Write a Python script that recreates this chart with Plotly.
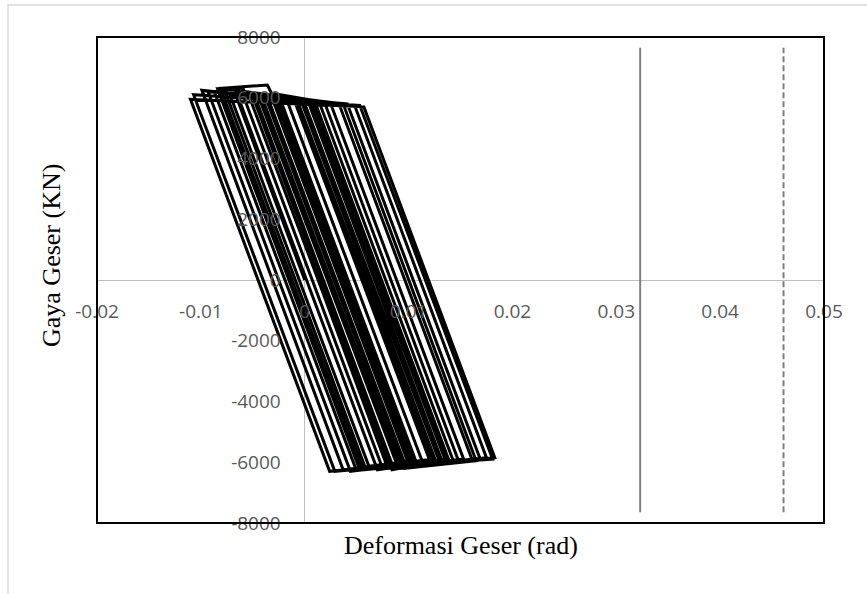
import plotly.graph_objects as go

# Shear deformation (rad) and shear force (kN) along the cyclic loading path
deformasi = [
    0.0000,
    -0.0066, -0.0025, 0.0105, 0.0058,
    -0.0076, -0.0007, 0.0123, 0.0049,
    -0.0087, -0.0060, -0.0057, 0.0008, 0.0137, 0.0080,
    -0.0053, -0.0029, 0.0102, 0.0037,
    -0.0099, 0.0025, 0.0153, 0.0062,
    -0.0072, -0.0004, 0.0126, 0.0024,
    -0.0110, 0.0057, 0.0183, 0.0085,
    -0.0048, -0.0001, 0.0130, 0.0053,
    -0.0084, -0.0036, -0.0032, 0.0019, 0.0148, 0.0089,
    -0.0044, 0.0006, 0.0135, 0.0044,
    -0.0093, 0.0041, 0.0169, 0.0075,
    -0.0060, -0.0011, 0.0121, 0.0029,
    -0.0107, 0.0053, 0.0181, 0.0097,
    -0.0035, -0.0023, 0.0108, 0.0070,
    -0.0066, 0.0003, 0.0132, 0.0101,
    -0.0031, 0.0014, 0.0143, 0.0093,
    -0.0041, 0.0033, 0.0161, 0.0056,
    -0.0081, 0.0048, 0.0175, 0.0105,
    -0.0027, 0.0037, 0.0165, 0.0096,
    -0.0037, -0.0017, 0.0114, 0.0084,
    -0.0050, 0.0010, 0.0139, 0.0080,
    0.0013,
]
gaya = [
    0,
    6050, 5950, -5950, -6150,
    6150, 5900, -5900, -6200,
    6200, 6330, 6150, 5850, -5950, -6100,
    6000, 5950, -6000, -6250,
    6250, 5800, -5900, -6150,
    6100, 5950, -5950, -6300,
    5950, 5700, -5850, -6150,
    6050, 5900, -6000, -6250,
    6300, 6420, 6150, 5850, -5950, -6100,
    6000, 5850, -5900, -6300,
    6200, 5800, -5900, -6200,
    6150, 6000, -6000, -6300,
    6100, 5750, -5900, -6100,
    5950, 5900, -6050, -6250,
    6200, 5900, -5950, -6150,
    5950, 5850, -5950, -6200,
    6000, 5800, -5900, -6250,
    6300, 5750, -5850, -6100,
    5900, 5800, -5950, -6200,
    5950, 5900, -6050, -6250,
    6050, 5850, -5950, -6200,
    0,
]

# Deformation limits drawn as vertical reference lines
batas_solid_x = [0.0323, 0.0323]
batas_dash_x = [0.0461, 0.0461]
batas_y = [-7650, 7650]

# Axis ranges and tick labels
x_range = [-0.02, 0.05]
y_range = [-8000, 8000]
x_tickvals = [-0.02, -0.01, 0, 0.01, 0.02, 0.03, 0.04, 0.05]
x_ticktext = ["-0.02", "-0.01", "0", "0.01", "0.02", "0.03", "0.04", "0.05"]
y_tickvals = [-8000, -6000, -4000, -2000, 0, 2000, 4000, 6000, 8000]
y_ticktext = ["-8000", "-6000", "-4000", "-2000", "0", "2000", "4000", "6000", "8000"]

tick_font = dict(family="Open Sans", size=19, color="#595959")
title_font = dict(family="Liberation Serif", size=26, color="#000000")

fig = go.Figure()
fig.add_trace(go.Scatter(
    x=deformasi, y=gaya, mode="lines",
    line=dict(color="#000000", width=3),
    showlegend=False, hoverinfo="skip",
))
fig.add_trace(go.Scatter(
    x=batas_solid_x, y=batas_y, mode="lines",
    line=dict(color="#808080", width=2),
    showlegend=False, hoverinfo="skip",
))
fig.add_trace(go.Scatter(
    x=batas_dash_x, y=batas_y, mode="lines",
    line=dict(color="#808080", width=2, dash="6px,3px"),
    showlegend=False, hoverinfo="skip",
))

# axes cross at the origin
y_axis_pos = (0 - x_range[0]) / (x_range[1] - x_range[0])
x_axis_pos = (0 - y_range[0]) / (y_range[1] - y_range[0])

fig.update_layout(
    width=867, height=594,
    margin=dict(l=97, r=43, t=37, b=71),
    paper_bgcolor="white", plot_bgcolor="white",
    xaxis=dict(
        range=x_range, tickvals=x_tickvals, ticktext=x_ticktext,
        showgrid=False, showline=False,
        zeroline=True, zerolinecolor="#bfbfbf", zerolinewidth=1.2,
        anchor="free", position=x_axis_pos, ticks="",
        tickfont=tick_font, ticklabelstandoff=18,
    ),
    yaxis=dict(
        range=y_range, tickvals=y_tickvals, ticktext=y_ticktext,
        showgrid=False, showline=False,
        zeroline=True, zerolinecolor="#bfbfbf", zerolinewidth=1.2,
        anchor="free", position=y_axis_pos, ticks="",
        tickfont=tick_font, ticklabelstandoff=24,
    ),
    shapes=[
        # chart area border
        dict(type="rect", xref="paper", yref="paper",
             x0=-0.1224, x1=1.3, y0=-0.3, y1=1.0658,
             line=dict(color="#d9d9d9", width=1.5), layer="below"),
        # plot area border
        dict(type="rect", xref="paper", yref="paper",
             x0=0, x1=1, y0=0, y1=1,
             line=dict(color="#000000", width=2), layer="above"),
    ],
    annotations=[
        dict(text="Deformasi Geser (rad)", xref="paper", yref="paper",
             x=0.5, y=-0.0453, xanchor="center", yanchor="middle",
             showarrow=False, font=title_font),
        dict(text="Gaya Geser (KN)", xref="paper", yref="paper",
             x=-0.0633, y=0.5514, xanchor="center", yanchor="middle",
             textangle=-90, showarrow=False, font=title_font),
    ],
)

fig.write_html("out.html")
